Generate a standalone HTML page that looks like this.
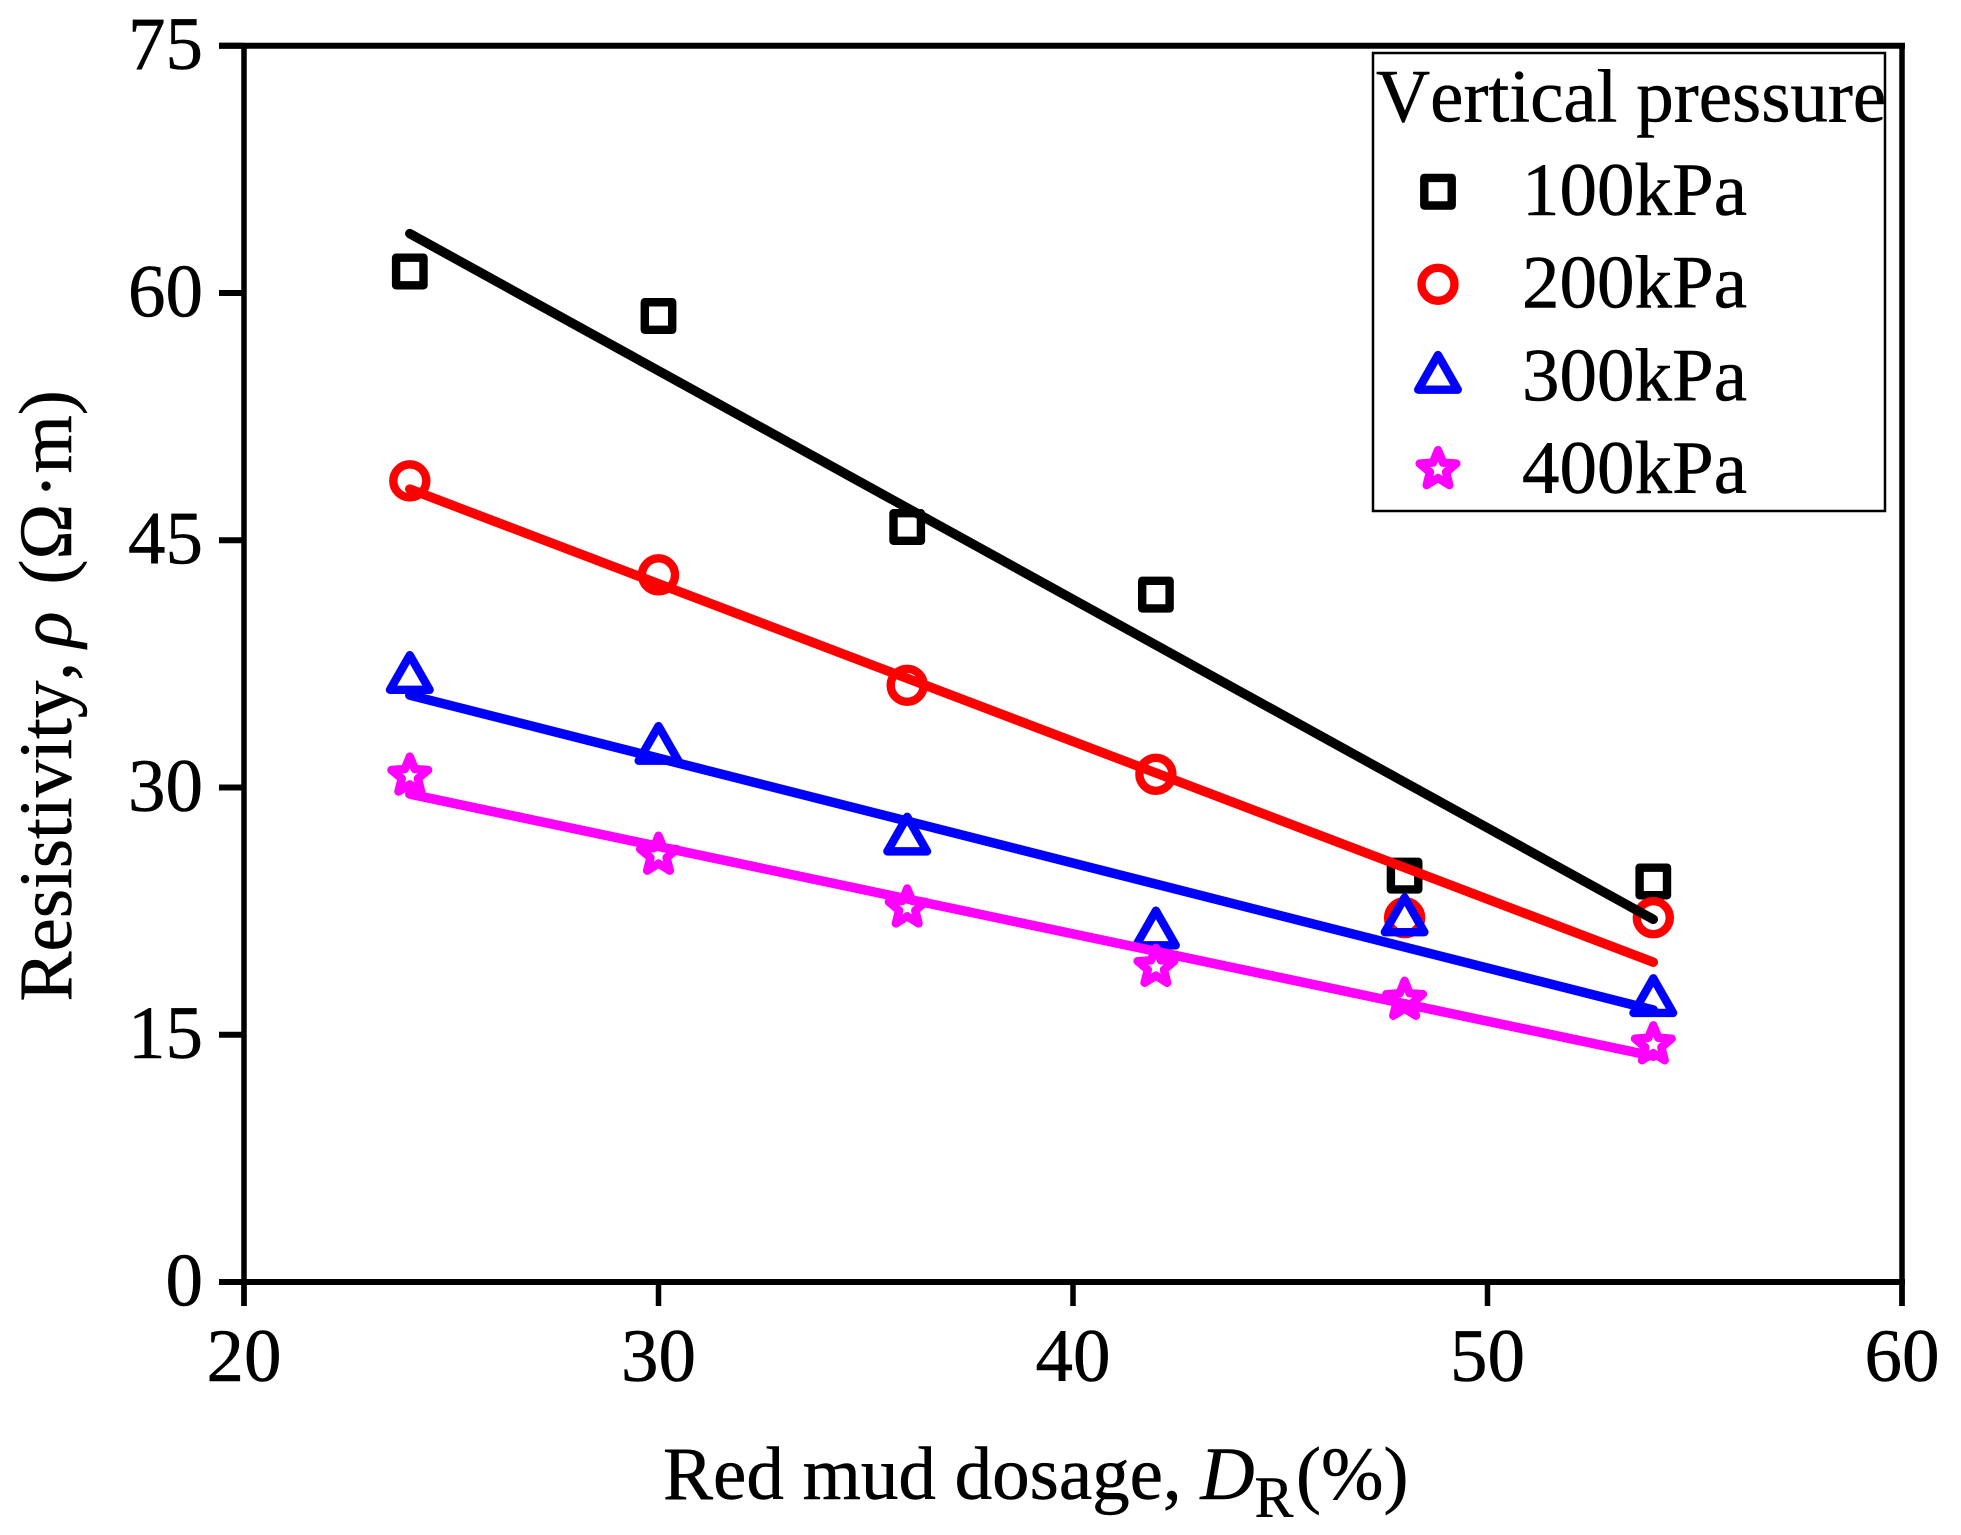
<!DOCTYPE html>
<html lang="en">
<head>
<meta charset="utf-8">
<title>Resistivity vs red mud dosage</title>
<style>
html,body{margin:0;padding:0;background:#fff;}
svg{display:block;font-family:"Liberation Serif","DejaVu Serif",serif;}
text{font-kerning:none;stroke:#000;stroke-width:0.5px;}
</style>
</head>
<body>
<svg id="chart" xmlns="http://www.w3.org/2000/svg" width="1961" height="1535" viewBox="0 0 1961 1535"></svg>
<script>
const xTicks = [20, 30, 40, 50, 60];
const yTicks = [0, 15, 30, 45, 60, 75];
const dosage = [24, 30, 36, 42, 48, 54];
const series100 = [61.3, 58.6, 45.8, 41.7, 24.65, 24.3];
const series200 = [48.6, 42.9, 36.2, 30.8, 22.1, 22.1];
const series300 = [36.7, 32.4, 26.9, 21.2, 22.0, 17.1];
const series400 = [30.7, 25.9, 22.7, 19.1, 17.1, 14.4];
const fitX = [24, 54];
const fit100 = [63.6, 22.0];
const fit200 = [48.1, 19.4];
const fit300 = [35.6, 16.5];
const fit400 = [29.6, 13.7];
const seriesNames = ['100kPa', '200kPa', '300kPa', '400kPa'];
const seriesColors = ['#000000', '#ff0000', '#0000ff', '#ff00ff'];
const seriesShapes = ['square', 'circle', 'triangle', 'star'];

const svgNS = 'http://www.w3.org/2000/svg';
const root = document.getElementById('chart');
const X0 = 244, X1 = 1902, Y0 = 1282, Y1 = 45.7;
function xScale(v) { return X0 + (v - 20) / 40 * (X1 - X0); }
function yScale(v) { return Y0 - v / 75 * (Y0 - Y1); }

function make(tag, attrs, parent) {
  const el = document.createElementNS(svgNS, tag);
  for (const k in attrs) el.setAttribute(k, attrs[k]);
  (parent || root).appendChild(el);
  return el;
}

function marker(shape, color, cx, cy, parent) {
  const common = { fill: 'none', stroke: color, 'stroke-width': 8.4, 'stroke-linejoin': 'round' };
  let d = '';
  if (shape === 'square') {
    return make('rect', Object.assign({ x: cx - 13.7, y: cy - 13.8, width: 27.4, height: 27.6 }, common), parent);
  }
  if (shape === 'circle') {
    return make('circle', Object.assign({ cx: cx, cy: cy, r: 16.5 }, common), parent);
  }
  if (shape === 'triangle') {
    d = 'M' + cx + ' ' + (cy - 21.8) + 'L' + (cx + 19.8) + ' ' + (cy + 12.8) + 'L' + (cx - 19.8) + ' ' + (cy + 12.8) + 'Z';
    return make('path', Object.assign({ d: d }, common), parent);
  }
  for (let i = 0; i < 10; i++) {
    const r = i % 2 === 0 ? 19.3 : 8.5;
    const a = -Math.PI / 2 + i * Math.PI / 5;
    d += (i ? 'L' : 'M') + (cx + r * Math.cos(a)).toFixed(2) + ' ' + (cy + r * Math.sin(a)).toFixed(2);
  }
  return make('path', Object.assign({ d: d + 'Z' }, common), parent);
}

/* white background */
const bg = make('rect', { x: 0, y: 0, width: 1961, height: 1535, fill: '#fff' });



/* axes frame */
const axes = make('g', { stroke: '#000', fill: 'none' });


const leftSpine = make('line', { x1: X0, y1: Y1, x2: X0, y2: 1306, 'stroke-width': 5.5 }, axes);


const rightSpine = make('line', { x1: X1, y1: Y1, x2: X1, y2: 1306, 'stroke-width': 5.5 }, axes);


const topSpine = make('line', { x1: 219, y1: Y1, x2: 1905, y2: Y1, 'stroke-width': 6 }, axes);


const bottomSpine = make('line', { x1: 219, y1: Y0, x2: 1905, y2: Y0, 'stroke-width': 6 }, axes);



/* ticks and tick labels */
yTicks.forEach(function (v) {
  const tick = make('line', { x1: 219, y1: yScale(v), x2: X0, y2: yScale(v), stroke: '#000', 'stroke-width': 6 });
  
  
  const label = make('text', { x: 203, y: yScale(v) + 23.5, 'font-size': 75, 'text-anchor': 'end', fill: '#000' });
  label.textContent = String(v);
  
  
});
xTicks.forEach(function (v) {
  const tick = make('line', { x1: xScale(v), y1: Y0, x2: xScale(v), y2: 1306, stroke: '#000', 'stroke-width': 5.5 });
  
  
  const label = make('text', { x: xScale(v), y: 1381, 'font-size': 75, 'text-anchor': 'middle', fill: '#000' });
  label.textContent = String(v);
  
  
});

/* scatter markers, drawn first */
[series100, series200, series300, series400].forEach(function (values, s) {
  const group = make('g', {});
  
  
  values.forEach(function (v, i) {
    const m = marker(seriesShapes[s], seriesColors[s], xScale(dosage[i]), yScale(v), group);
    
    
  });
});

/* fit lines, drawn over markers */
[fit100, fit200, fit300, fit400].forEach(function (values, s) {
  const line = make('line', {
    x1: xScale(fitX[0]), y1: yScale(values[0]),
    x2: xScale(fitX[1]), y2: yScale(values[1]),
    stroke: seriesColors[s], 'stroke-width': 9.5, 'stroke-linecap': 'round'
  });
  
  
});

/* legend */
const legend = make('g', {});


const legendBox = make('rect', { x: 1373, y: 53, width: 512, height: 458, fill: '#fff', stroke: '#000', 'stroke-width': 2.5 }, legend);


const legendTitle = make('text', { x: 1376, y: 121.7, 'font-size': 75, fill: '#000' }, legend);
legendTitle.textContent = 'Vertical pressure';


seriesNames.forEach(function (name, i) {
  const rowY = 191.7 + i * 92.6;
  const entry = make('g', {}, legend);
  
  
  const icon = marker(seriesShapes[i], seriesColors[i], 1438, rowY, entry);
  
  
  const text = make('text', { x: 1522, y: rowY + 23.4, 'font-size': 75, fill: '#000' }, entry);
  text.textContent = name;
  
  
});
</script>
<script>
/* axis titles */
(function () {
  const svg = document.getElementById('chart');
  const ns = 'http://www.w3.org/2000/svg';

  const xt = document.createElementNS(ns, 'text');
  
  
  xt.setAttribute('x', '663');
  xt.setAttribute('y', '1499');
  xt.setAttribute('font-size', '75');
  xt.setAttribute('fill', '#000');
  xt.innerHTML = 'Red mud dosage, <tspan font-style="italic">D</tspan><tspan font-size="58" dy="18">R</tspan><tspan x="1296" dy="-18">(%)</tspan>';
  svg.appendChild(xt);

  const yt = document.createElementNS(ns, 'text');
  
  
  yt.setAttribute('transform', 'translate(71,1001.5) rotate(-90)');
  yt.setAttribute('font-size', '75');
  yt.setAttribute('fill', '#000');
  yt.innerHTML = 'Resistivity, <tspan x="354" font-style="italic">ρ</tspan><tspan x="417">(Ω</tspan><tspan x="503">·</tspan><tspan x="528">m)</tspan>';
  svg.appendChild(yt);
})();
</script>
</body>
</html>
